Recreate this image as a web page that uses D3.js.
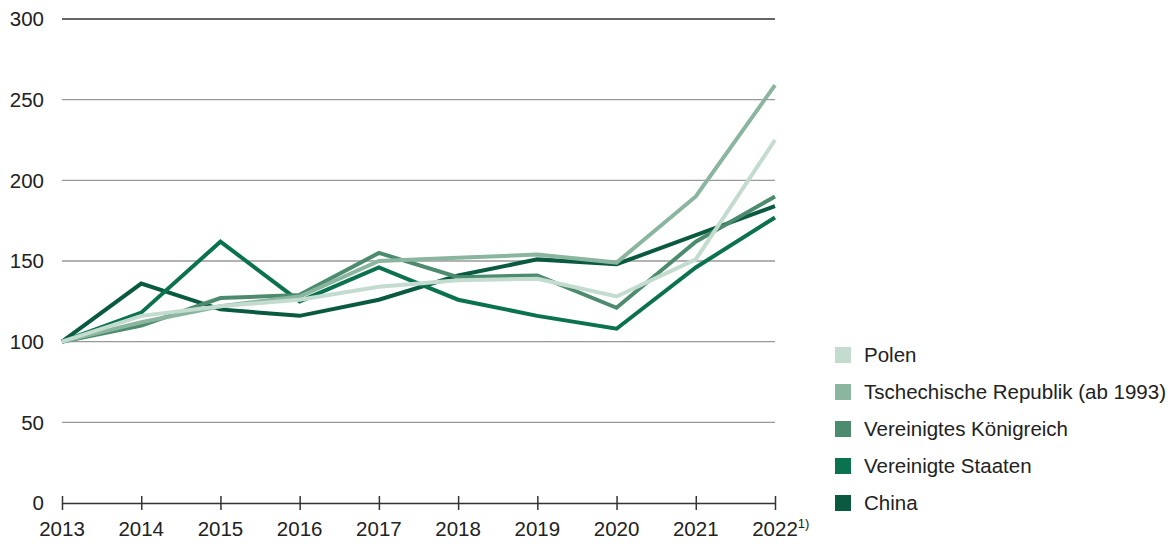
<!DOCTYPE html>
<html><head><meta charset="utf-8">
<script src="https://cdn.jsdelivr.net/npm/d3@7"></script>
<style>
html,body{margin:0;padding:0;background:#fff;}
svg{display:block;font-family:"Liberation Sans",Arial,sans-serif;}
</style></head>
<body>
<svg id="c" width="1173" height="545"></svg>
<script>
const years = [2013,2014,2015,2016,2017,2018,2019,2020,2021,2022];
const yTicks = [0,50,100,150,200,250,300];
const seriesNames = ["Polen","Tschechische Republik (ab 1993)","Vereinigtes Königreich","Vereinigte Staaten","China"];
const polen = [100,116,122,126,134,138,139,128,151,225];
const tschechien = [100,112,122,128,150,152,154,149,190,259];
const uk = [100,110,127,129,155,140,141,121,162,190];
const usa = [100,118,162,125,146,126,116,108,146,177];
const china = [100,136,120,116,126,141,151,148,166,184];
const colors = ["#c3dccf","#8ab59e","#4d8b6e","#0b7250","#0a5a41"];
const seriesValues = [polen,tschechien,uk,usa,china];
const FS = 20.5;

const svg = d3.select("#c");
const x = d3.scalePoint().domain(years).range([62,775]);
const y = d3.scaleLinear().domain([0,300]).range([503,19]);

// grid lines
svg.append("g").selectAll("line").data(yTicks.filter(d=>d>0)).join("line")
  .attr("x1",62).attr("x2",775)
  .attr("y1",d=>y(d)).attr("y2",d=>y(d))
  .attr("stroke",d=>d===300?"#333":"#999").attr("stroke-width",1.3);

// y labels
svg.append("g").selectAll("text").data(yTicks).join("text")
  .attr("x",44).attr("y",d=>y(d)).attr("dy","0.36em")
  .attr("text-anchor","end").attr("font-size",FS).attr("fill","#222")
  .text(d=>d);

// x axis
const xg = svg.append("g").attr("transform","translate(0,503)")
  .call(d3.axisBottom(x).tickSize(7).tickSizeOuter(0).tickFormat(""));
xg.select(".domain").attr("stroke","#333").attr("stroke-width",1.5);
xg.selectAll(".tick line").attr("stroke","#333").attr("stroke-width",1.5).attr("y1",-7).attr("y2",7);
xg.selectAll(".tick text").remove();
svg.append("g").selectAll("text").data(years).join("text")
  .attr("x",d=>x(d)).attr("y",536).attr("text-anchor","middle")
  .attr("font-size",FS).attr("fill","#222")
  .each(function(d){
    const t=d3.select(this);
    const s=t.append("tspan").text(d);
    if(d===2022){
      t.append("tspan").attr("font-size",13).attr("dy",-8).text("1)");
      const w=s.node().getComputedTextLength();
      t.attr("text-anchor","start").attr("x",x(d)-w/2);
    }
  });

// lines
const line = d3.line().x((d,i)=>x(years[i])).y(d=>y(d));
const order = [4,3,2,1,0];
svg.append("g").selectAll("path").data(order).join("path")
  .attr("d",i=>line(seriesValues[i]))
  .attr("fill","none").attr("stroke",i=>colors[i]).attr("stroke-width",4)
  .attr("stroke-linejoin","miter");

// legend
const lg = svg.append("g").selectAll("g").data(seriesNames).join("g")
  .attr("transform",(d,i)=>`translate(835,${355+i*37})`);
lg.append("rect").attr("x",0).attr("y",-8).attr("width",16).attr("height",16)
  .attr("fill",(d,i)=>colors[i]);
lg.append("text").attr("x",29).attr("y",0).attr("dy","0.36em")
  .attr("font-size",FS).attr("fill","#222").text(d=>d);
</script>
</body></html>
